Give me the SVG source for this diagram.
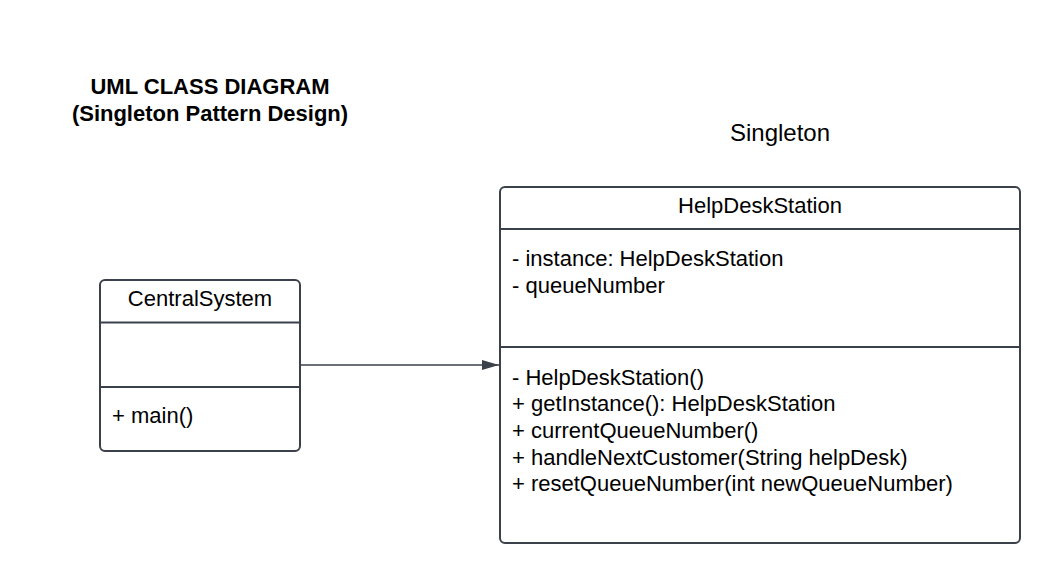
<svg xmlns="http://www.w3.org/2000/svg" width="1060" height="585" viewBox="0 0 1060 585">
<style>
.box{fill:#ffffff;stroke:#3a414a;stroke-width:2}
.div{stroke:#3a414a;stroke-width:2}
.t{font-family:"Liberation Sans",Arial,sans-serif;font-size:22px;fill:#000}
.c{text-anchor:middle}
.b{font-weight:bold}
</style>
<defs>
<marker id="arr" markerWidth="18" markerHeight="12" refX="17" refY="5" orient="auto" markerUnits="userSpaceOnUse">
<path d="M0,0 L17,5 L0,10 Z" fill="#3a414a"/>
</marker>
</defs>
<rect width="1060" height="585" fill="#ffffff"/>
<g id="title">
<text class="t b c" x="210" y="94">UML CLASS DIAGRAM</text>
<text class="t b c" x="210" y="121">(Singleton Pattern Design)</text>
</g>
<g id="singleton-label">
<text class="t c" x="780" y="141" style="font-size:24px">Singleton</text>
</g>
<g id="connectors">
<line x1="301" y1="365" x2="499" y2="365" stroke="#3a414a" stroke-width="1.5" marker-end="url(#arr)"/>
</g>
<g id="CentralSystem">
<rect class="box" x="100" y="280" width="200" height="171" rx="5"/>
<line class="div" x1="100" y1="322.5" x2="300" y2="322.5"/>
<line class="div" x1="100" y1="387" x2="300" y2="387"/>
<text class="t c" x="200" y="306">CentralSystem</text>
<text class="t" x="112" y="423">+ main()</text>
</g>
<g id="HelpDeskStation">
<rect class="box" x="500" y="187" width="520" height="356" rx="5"/>
<line class="div" x1="500" y1="229" x2="1020" y2="229"/>
<line class="div" x1="500" y1="347" x2="1020" y2="347"/>
<text class="t c" x="760" y="213">HelpDeskStation</text>
<text class="t" x="512" y="266">- instance: HelpDeskStation</text>
<text class="t" x="512" y="293">- queueNumber</text>
<text class="t" x="512" y="385">- HelpDeskStation()</text>
<text class="t" x="512" y="411">+ getInstance(): HelpDeskStation</text>
<text class="t" x="512" y="438">+ currentQueueNumber()</text>
<text class="t" x="512" y="465">+ handleNextCustomer(String helpDesk)</text>
<text class="t" x="512" y="491">+ resetQueueNumber(int newQueueNumber)</text>
</g>
</svg>
